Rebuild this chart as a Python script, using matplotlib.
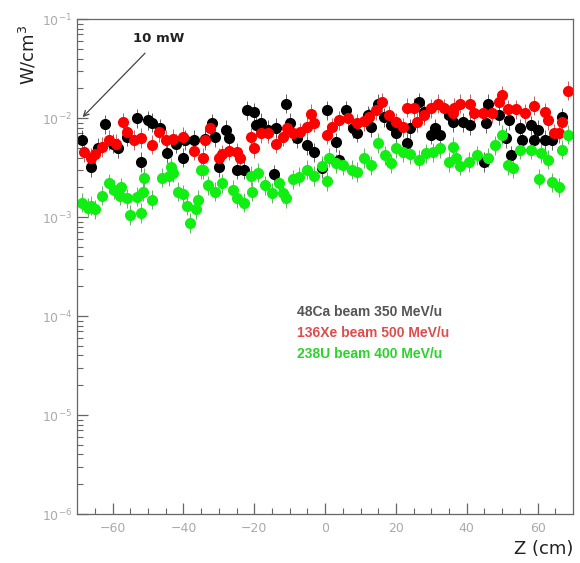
import matplotlib.pyplot as plt
import numpy as np

# 48Ca beam 350 MeV/u  (z in cm, power density in 1e-3 W/cm3)
ca_z = [-68.6, -66, -64, -62, -60, -58.5, -56, -53, -52, -50, -49, -46.6, -44.6, -42,
        -40, -39.5, -37, -34, -32, -31, -30, -28, -27, -25, -23, -22, -20, -19.5, -18,
        -16, -14.5, -14, -11, -10, -8, -5, -3, -1, 0.5, 3, 4, 6, 8, 9, 12, 13, 15, 16.5,
        18.5, 20, 23, 24, 26.5, 28, 30, 31, 32.5, 35, 36, 39, 41, 45, 45.5, 46, 49, 51,
        52, 52.5, 55, 55.5, 58, 59, 60, 62, 64, 67]
ca_v = [6.0, 3.2, 5.0, 8.7, 5.5, 5.0, 6.5, 10, 3.6, 9.5, 9.0, 7.9, 4.4, 5.5,
        4.0, 6.0, 6.0, 6.2, 8.9, 6.4, 3.2, 7.6, 6.3, 3.0, 3.0, 12, 11.5, 8.5, 9.0,
        7.6, 2.7, 8.0, 14, 9.0, 6.3, 5.3, 4.5, 3.1, 12, 5.7, 3.8, 12, 7.9, 7.1, 10.7, 8.1, 14, 10.2,
        8.5, 7.1, 5.6, 7.9, 14.5, 11.5, 6.8, 7.9, 6.8, 10.7, 9.1, 9.1, 8.5, 3.6, 8.9, 14, 10.7, 6.3,
        9.5, 4.2, 7.9, 6.0, 8.5, 6.0, 7.6, 6.0, 6.0, 10.2]

# 136Xe beam 500 MeV/u
xe_z = [-68, -66, -65, -63, -61, -59, -57, -56, -54, -52, -49, -47, -45, -43, -40, -37,
        -34.5, -34, -32.5, -30, -29, -27, -25, -24, -21, -20, -18, -16, -14, -12, -10.7,
        -9, -7, -5, -4, -3, 0.5, 2, 4, 6.5, 9, 11, 12.5, 14.5, 16, 18, 20, 22, 23, 25, 26,
        28, 30, 32, 33.5, 36, 36.5, 38, 41, 42, 44.5, 47, 49, 50, 51.5, 54, 56.5, 59, 62,
        63, 64.5, 66, 67, 68.5]
xe_v = [4.5, 4.0, 4.3, 5.1, 6.0, 5.5, 9.1, 7.2, 6.0, 6.3, 5.4, 7.2, 6.0, 6.2, 6.5, 4.7,
        4.0, 6.0, 7.9, 4.0, 4.3, 4.7, 4.5, 4.0, 6.4, 5.0, 7.0, 7.0, 5.5, 6.5, 8.0,
        7.0, 7.2, 8.2, 11, 9.0, 6.8, 8.1, 9.5, 10, 8.9, 9.3, 10.2, 12, 14.5, 10.7, 9.1, 8.1, 12.8, 12.8, 9.1,
        10.7, 12.6, 14, 12.6, 11.2, 12.8, 14, 14, 11.2, 11.2, 11.2, 14.5, 17, 12.3, 12.3, 11.2, 13.4, 11.5,
        9.5, 7.0, 7.0, 9.1, 19]

# 238U beam 400 MeV/u
u_z = [-68.6, -67, -66, -65, -63, -61, -59.5, -58, -57.5, -56, -55, -53, -52, -51.5, -51,
       -49, -46, -44, -43.5, -43, -41.5, -40, -39, -38, -36.5, -36, -35, -34.5, -33, -31,
       -29, -26, -25, -23, -21, -20.5, -19, -17, -15, -13, -12, -11, -9, -7.5, -5, -3,
       -1, 0.5, 1, 3, 5, 7.5, 9, 11, 13, 15, 17, 18.5, 20, 22, 24, 26.5, 28.5, 30.5, 32.5,
       35, 36, 37, 38, 40.5, 43, 46, 48, 50, 51.5, 53, 55, 58, 60.5, 61, 63, 64, 66, 67, 68.5]
u_v = [1.4, 1.25, 1.3, 1.2, 1.65, 2.2, 1.9, 1.65, 2.0, 1.55, 1.05, 1.6, 1.1, 1.8, 2.5,
       1.5, 2.5, 2.6, 3.2, 2.8, 1.8, 1.7, 1.3, 0.87, 1.2, 1.5, 3.0, 3.0, 2.1, 1.8,
       2.2, 1.9, 1.55, 1.4, 2.6, 1.8, 2.8, 2.1, 1.75, 2.2, 1.75, 1.55, 2.4, 2.55, 3.0, 2.6,
       3.3, 2.3, 4.0, 3.5, 3.35, 3.0, 2.85, 3.95, 3.35, 5.6, 4.2, 3.5, 5.0, 4.5, 4.3, 3.8, 4.4, 4.5, 5.0,
       3.6, 5.1, 4.0, 3.3, 3.6, 4.2, 4.0, 5.3, 6.8, 3.35, 3.1, 4.8, 4.8, 2.45, 4.4, 3.8, 2.25, 2.0, 4.8, 6.8]

labels = ['48Ca beam 350 MeV/u', '136Xe beam 500 MeV/u', '238U beam 400 MeV/u']
label_colors = ['#555555', '#e04c4c', '#2bd42b']

fig = plt.figure(figsize=(5.8, 5.63), dpi=100)
ax = fig.add_axes([0.133, 0.087, 0.855, 0.879])

series = [(ca_z, ca_v, '#000000', '#222222'),
          (xe_z, xe_v, '#ff0000', '#aa2222'),
          (u_z, u_v, '#11ee11', '#229922')]
for z, v, c, ec in series:
    v = np.array(v) * 1e-3
    ax.errorbar(z, v, yerr=[v * 0.2, v * 0.25], fmt='o', color=c, ms=7,
                mec=c, ecolor=ec, elinewidth=0.5, capsize=0)

ax.set_yscale('log')
ax.set_xlim(-70, 70)
ax.set_ylim(1e-6, 1e-1)
ax.set_xticks([-60, -40, -20, 0, 20, 40, 60])
ax.set_xticks(np.arange(-65, 70, 5), minor=True)

for s in ax.spines.values():
    s.set_color('#666666')
    s.set_linewidth(0.9)
ax.tick_params(which='both', direction='in', colors='#666666', labelcolor='#aaaaaa',
               top=False, right=False, labelsize=9)
ax.tick_params(which='major', length=8, width=0.9)
ax.tick_params(which='minor', length=4, width=0.8)
ax.tick_params(axis='x', pad=6)

ax.text(-0.1, 0.99, 'W/cm$^3$', transform=ax.transAxes, rotation=90,
        ha='center', va='top', fontsize=13, color='#222222')
fig.text(0.988, 0.008, 'Z (cm)', ha='right', va='bottom', fontsize=13, color='#222222')

ax.annotate('10 mW', xy=(0.011, 0.802), xytext=(0.165, 0.96), xycoords='axes fraction',
            textcoords='axes fraction', ha='center', va='center', fontsize=9.5,
            fontweight='bold', color='#222222',
            arrowprops=dict(arrowstyle='->', color='#444444', lw=0.9,
                            shrinkA=5, shrinkB=0))

for i, (lab, col) in enumerate(zip(labels, label_colors)):
    ax.text(0.444, 0.408 - i * 0.042, lab, transform=ax.transAxes, fontsize=10,
            fontweight='bold', color=col, family='Liberation Sans', va='center')

fig.savefig('out.png', dpi=100)
